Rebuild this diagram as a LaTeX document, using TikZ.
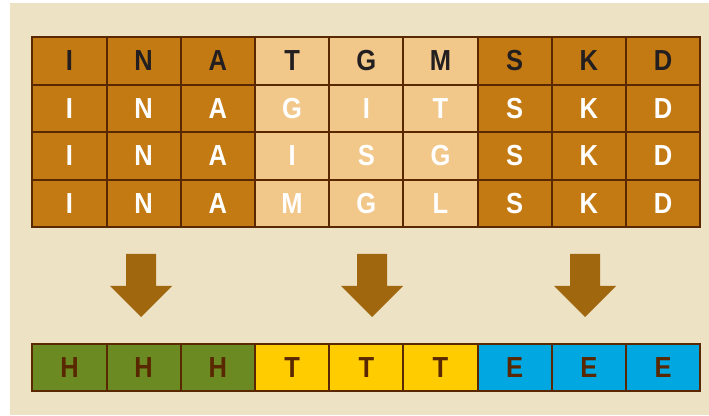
\documentclass[tikz,border=0pt]{standalone}
\usepackage{fontspec}
\setmainfont{Liberation Sans}[FakeStretch=0.88]
\definecolor{panel}{HTML}{EDE2C4}
\definecolor{ochre}{HTML}{C47A12}
\definecolor{sand}{HTML}{F2C78A}
\definecolor{rim}{HTML}{5A2800}
\definecolor{ink}{HTML}{231F20}
\definecolor{bolt}{HTML}{A0670F}
\definecolor{helixg}{HTML}{6B8A22}
\definecolor{turny}{HTML}{FFCC00}
\definecolor{strandb}{HTML}{00A7E1}
\begin{document}
\begin{tikzpicture}[x=1pt, y=1pt,
    cell/.style={rectangle, draw=rim, line width=2pt, minimum width=74.2pt, minimum height=47.5pt, inner sep=0pt, font=\fontsize{29}{29}\selectfont\bfseries},
    dk/.style={cell, fill=ochre, text=white},
    lt/.style={cell, fill=sand, text=white},
    hd/.style={text=ink},
    ss/.style={cell, minimum height=47pt, text=rim},
    blk/.style={fill=bolt}
]

% Background
\useasboundingbox (0,0) rectangle (709,415);
\fill[panel] (10,0) rectangle (709,412);

% Alignment rows
\node[dk, hd] (r1c1) at (69.5,354) {I};   \node[dk, hd] (r1c2) at (143.7,354) {N}; \node[dk, hd] (r1c3) at (217.9,354) {A};
\node[lt, hd] (r1c4) at (292.1,354) {T};  \node[lt, hd] (r1c5) at (366.3,354) {G}; \node[lt, hd] (r1c6) at (440.5,354) {M};
\node[dk, hd] (r1c7) at (514.7,354) {S};  \node[dk, hd] (r1c8) at (588.9,354) {K}; \node[dk, hd] (r1c9) at (663.1,354) {D};

\node[dk] (r2c1) at (69.5,306.5) {I};  \node[dk] (r2c2) at (143.7,306.5) {N}; \node[dk] (r2c3) at (217.9,306.5) {A};
\node[lt] (r2c4) at (292.1,306.5) {G}; \node[lt] (r2c5) at (366.3,306.5) {I}; \node[lt] (r2c6) at (440.5,306.5) {T};
\node[dk] (r2c7) at (514.7,306.5) {S}; \node[dk] (r2c8) at (588.9,306.5) {K}; \node[dk] (r2c9) at (663.1,306.5) {D};

\node[dk] (r3c1) at (69.5,259) {I};  \node[dk] (r3c2) at (143.7,259) {N}; \node[dk] (r3c3) at (217.9,259) {A};
\node[lt] (r3c4) at (292.1,259) {I}; \node[lt] (r3c5) at (366.3,259) {S}; \node[lt] (r3c6) at (440.5,259) {G};
\node[dk] (r3c7) at (514.7,259) {S}; \node[dk] (r3c8) at (588.9,259) {K}; \node[dk] (r3c9) at (663.1,259) {D};

\node[dk] (r4c1) at (69.5,211.5) {I};  \node[dk] (r4c2) at (143.7,211.5) {N}; \node[dk] (r4c3) at (217.9,211.5) {A};
\node[lt] (r4c4) at (292.1,211.5) {M}; \node[lt] (r4c5) at (366.3,211.5) {G}; \node[lt] (r4c6) at (440.5,211.5) {L};
\node[dk] (r4c7) at (514.7,211.5) {S}; \node[dk] (r4c8) at (588.9,211.5) {K}; \node[dk] (r4c9) at (663.1,211.5) {D};

% Block arrows
\fill[blk] (141,161) ++(-15,0) -- ++(30,0) -- ++(0,-32) -- ++(16,0) -- ++(-31,-31) -- ++(-31,31) -- ++(16,0) -- cycle;
\fill[blk] (372,161) ++(-15,0) -- ++(30,0) -- ++(0,-32) -- ++(16,0) -- ++(-31,-31) -- ++(-31,31) -- ++(16,0) -- cycle;
\fill[blk] (585,161) ++(-15,0) -- ++(30,0) -- ++(0,-32) -- ++(16,0) -- ++(-31,-31) -- ++(-31,31) -- ++(16,0) -- cycle;

% Secondary structure
\node[ss, fill=helixg]  (s1) at (69.5,47.5) {H};  \node[ss, fill=helixg]  (s2) at (143.7,47.5) {H}; \node[ss, fill=helixg]  (s3) at (217.9,47.5) {H};
\node[ss, fill=turny]   (s4) at (292.1,47.5) {T}; \node[ss, fill=turny]   (s5) at (366.3,47.5) {T}; \node[ss, fill=turny]   (s6) at (440.5,47.5) {T};
\node[ss, fill=strandb] (s7) at (514.7,47.5) {E}; \node[ss, fill=strandb] (s8) at (588.9,47.5) {E}; \node[ss, fill=strandb] (s9) at (663.1,47.5) {E};

\end{tikzpicture}
\end{document}
